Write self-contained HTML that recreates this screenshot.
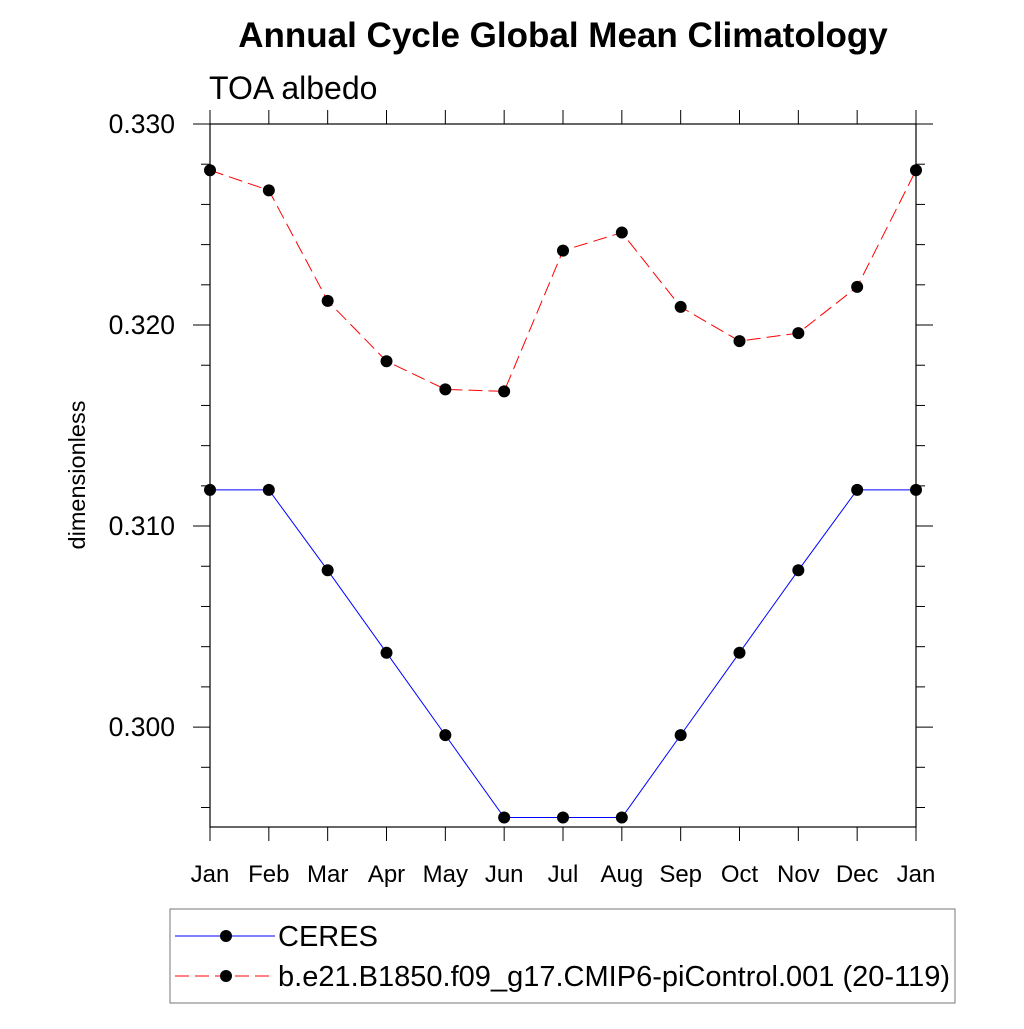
<!DOCTYPE html>
<html><head><meta charset="utf-8"><style>body{margin:0;background:#fff}svg text{font-family:"Liberation Sans",sans-serif}</style></head>
<body>
<svg width="1024" height="1024" viewBox="0 0 1024 1024">
<text x="563" y="47" font-size="35" font-weight="bold" text-anchor="middle">Annual Cycle Global Mean Climatology</text>
<text x="209" y="99" font-size="32">TOA albedo</text>
<text transform="translate(85,475) rotate(-90)" font-size="23.5" text-anchor="middle">dimensionless</text>
<g id="axes"></g>
<g id="series"></g>
<rect x="170" y="909" width="785" height="94" fill="none" stroke="#777" stroke-width="1"/>
<g>
<line x1="175" y1="936" x2="275" y2="936" stroke="blue" stroke-width="1"/>
<circle cx="226" cy="936" r="6" fill="#000"/>
<text x="278" y="946" font-size="29">CERES</text></g>
<g>
<line x1="175" y1="976" x2="275" y2="976" stroke="red" stroke-width="1" stroke-dasharray="14,6"/>
<circle cx="226" cy="976" r="6" fill="#000"/>
<text x="278" y="986" font-size="29" textLength="672" lengthAdjust="spacingAndGlyphs">b.e21.B1850.f09_g17.CMIP6-piControl.001 (20-119)</text></g>
</svg>
<script>
const months=["Jan","Feb","Mar","Apr","May","Jun","Jul","Aug","Sep","Oct","Nov","Dec","Jan"];
const ceres=[0.3118,0.3118,0.3078,0.3037,0.2996,0.2955,0.2955,0.2955,0.2996,0.3037,0.3078,0.3118,0.3118];
const model=[0.3277,0.3267,0.3212,0.3182,0.3168,0.3167,0.3237,0.3246,0.3209,0.3192,0.3196,0.3219,0.3277];
const yTicks=[0.300,0.310,0.320,0.330];
const yTickLabels=["0.300","0.310","0.320","0.330"];
const ns="http://www.w3.org/2000/svg";
const X0=210,X1=916,YT=124,YB=827,VT=0.330,VB=0.29503;
function sx(i){return X0+i*(X1-X0)/(months.length-1);}
function sy(v){return YT+(VT-v)/(VT-VB)*(YB-YT);}
function mk(tag,attrs,parent){const e=document.createElementNS(ns,tag);for(const k in attrs)e.setAttribute(k,attrs[k]);parent.appendChild(e);return e;}
const ax=document.getElementById('axes');
const frame=mk('rect',{x:X0,y:YT,width:X1-X0,height:YB-YT,fill:'none',stroke:'#000','stroke-width':1.2},ax);


for(let v=0.296;v<=0.3301;v+=0.002){const y=sy(v);const maj=Math.abs(v*100-Math.round(v*100))<1e-6;const L=maj?17:9;
mk('line',{x1:X0-L,y1:y,x2:X0,y2:y,stroke:'#000'},ax);mk('line',{x1:X1,y1:y,x2:X1+L,y2:y,stroke:'#000'},ax);}
yTicks.forEach((v,i)=>{const t=mk('text',{x:X0-35,y:sy(v)+9,'font-size':26.5,'text-anchor':'end'},ax);t.textContent=yTickLabels[i];

});
months.forEach((m,i)=>{const x=sx(i);mk('line',{x1:x,y1:YB,x2:x,y2:YB+14,stroke:'#000'},ax);mk('line',{x1:x,y1:YT-14,x2:x,y2:YT,stroke:'#000'},ax);
const t=mk('text',{x:x,y:882,'font-size':24,'text-anchor':'middle'},ax);t.textContent=m;

});
const sg=document.getElementById('series');
function draw(vals,color,dash,name){const g=mk('g',{},sg);


mk('polyline',{points:vals.map((v,i)=>sx(i)+','+sy(v)).join(' '),fill:'none',stroke:color,'stroke-width':1,'stroke-dasharray':dash},g);
vals.forEach((v,i)=>{const c=mk('circle',{cx:sx(i),cy:sy(v),r:6,fill:'#000'},g);

});}
draw(ceres,'blue','none','ceres-series');
draw(model,'red','14,6','model-series');
</script>
</body></html>
